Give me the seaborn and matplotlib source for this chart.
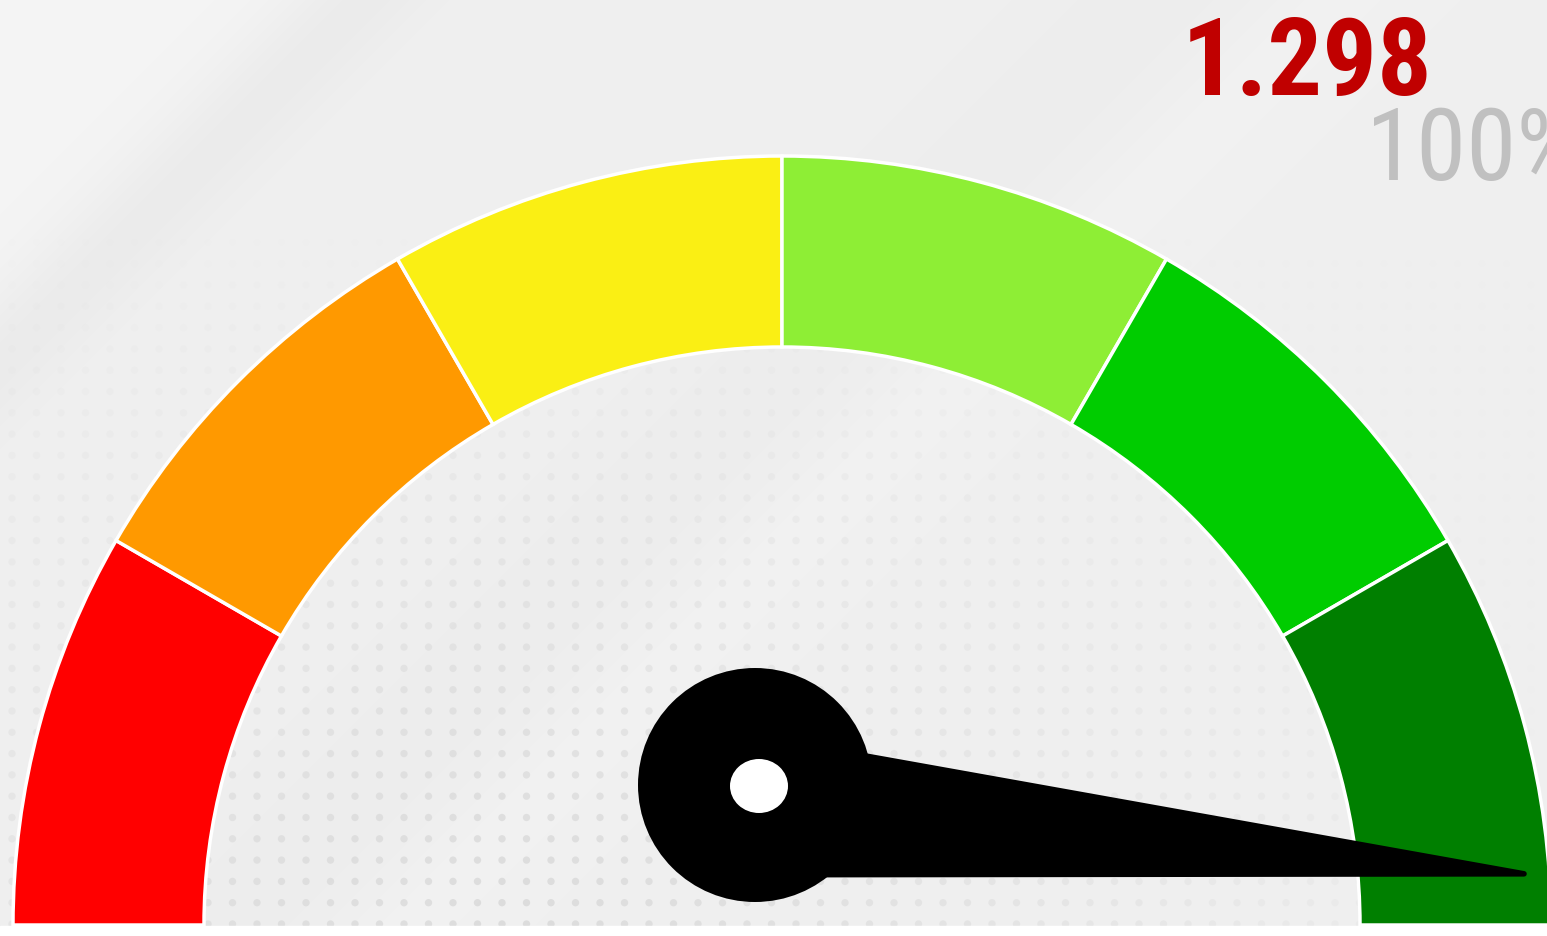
import numpy as np
import matplotlib
matplotlib.use("Agg")
import matplotlib.pyplot as plt
import matplotlib.font_manager as fm
from matplotlib.patches import Wedge, Circle, Ellipse, Polygon
import seaborn as sns

# gauge data
seg_weights = [1, 1, 1, 1, 1, 1]
seg_colors = ["#FF0000", "#FF9900", "#FAEF14", "#8EEE35", "#00CC00", "#007F00"]
value_text = "1.298"
pct_text = "100%"
needle_frac = 1.028   # needle position as a fraction of the dial (slightly past the end)

W, H = 1547, 936

sns.set_theme(style="white")
plt.rcParams["font.family"] = ["DejaVu Sans"]

# pick a narrow font if one is there
names = {f.name for f in fm.fontManager.ttflist}
cond_fonts = [n for n in ["Roboto Condensed", "Liberation Sans Narrow", "DejaVu Sans Condensed"] if n in names]
font_main = cond_fonts[0] if cond_fonts else "DejaVu Sans"

fig = plt.figure(figsize=(W / 100, H / 100), dpi=100)
ax = fig.add_axes([0, 0, 1, 1])
ax.set_xlim(0, W)
ax.set_ylim(0, H)
ax.axis("off")

# background: light grey with soft diagonal bands
xx, yy = np.meshgrid(np.arange(W), np.arange(H))
d = xx + (H - yy)  # diagonal coordinate in image space
bg = np.full(d.shape, 0.941)
bg += 0.018 / (1 + np.exp((d - 290) / 35.0))
bg -= 0.020 * np.exp(-((d - 360) / 70.0) ** 2)
bg -= 0.010 * np.exp(-((d - 1150) / 140.0) ** 2)
bg += 0.008 * np.exp(-((d - 1330) / 70.0) ** 2)
ax.imshow(np.dstack([bg, bg, bg]).clip(0, 1), extent=(0, W, 0, H), origin="lower", zorder=0)

# faint dot texture
gx, gy = np.meshgrid(np.arange(12, W, 24.5), np.arange(12, H - 180, 21.3))
gx, gy = gx.ravel(), gy.ravel()
alpha = np.clip((700 - gy) / 650, 0, 1) * np.clip(1 - np.abs(gx - 500) / 1100, 0, 1)
cols = np.zeros((len(gx), 4))
cols[:, :3] = 0.80
cols[:, 3] = alpha * 0.55
ax.scatter(gx, gy, s=28, c=cols, linewidths=0, zorder=1)
ax.axhspan(0, 10, color="white", zorder=1)

# dial
cx, cy = 782, 11
r_out, width = 769, 191
total = sum(seg_weights)
start = 180.0
for w, c in zip(seg_weights, seg_colors):
    span = 180.0 * w / total
    ax.add_patch(Wedge((cx, cy), r_out, start - span, start, width=width,
                       facecolor=c, edgecolor="white", linewidth=2.5, zorder=2))
    start -= span

# needle
hub = np.array([755.0, 151.0])
base = hub + np.array([0.0, -21.0])
ang = np.deg2rad(180.0 * (1 - needle_frac))
L = 772
tip = base + L * np.array([np.cos(ang), np.sin(ang)])
perp = np.array([-np.sin(ang), np.cos(ang)])
half = 69
ax.add_patch(Polygon([base + half * perp, tip, base - half * perp], closed=True,
                     facecolor="black", edgecolor="black", linewidth=4, joinstyle="round", zorder=3))
ax.add_patch(Circle(hub, 117, facecolor="black", edgecolor="none", zorder=4))
ax.add_patch(Ellipse((759, 150), 58, 54, facecolor="white", edgecolor="none", zorder=5))

# labels
kw = dict(family=[font_main, "DejaVu Sans"])
ax.text(1432, 936 - 95, value_text, ha="right", va="baseline", fontsize=78,
        fontweight="bold", color="#C00000", zorder=6, **kw)
ax.text(1366, 936 - 180, pct_text, ha="left", va="baseline", fontsize=73,
        color="#C0C0C0", zorder=6, clip_on=False, **kw)

fig.savefig("out.png", dpi=100)
